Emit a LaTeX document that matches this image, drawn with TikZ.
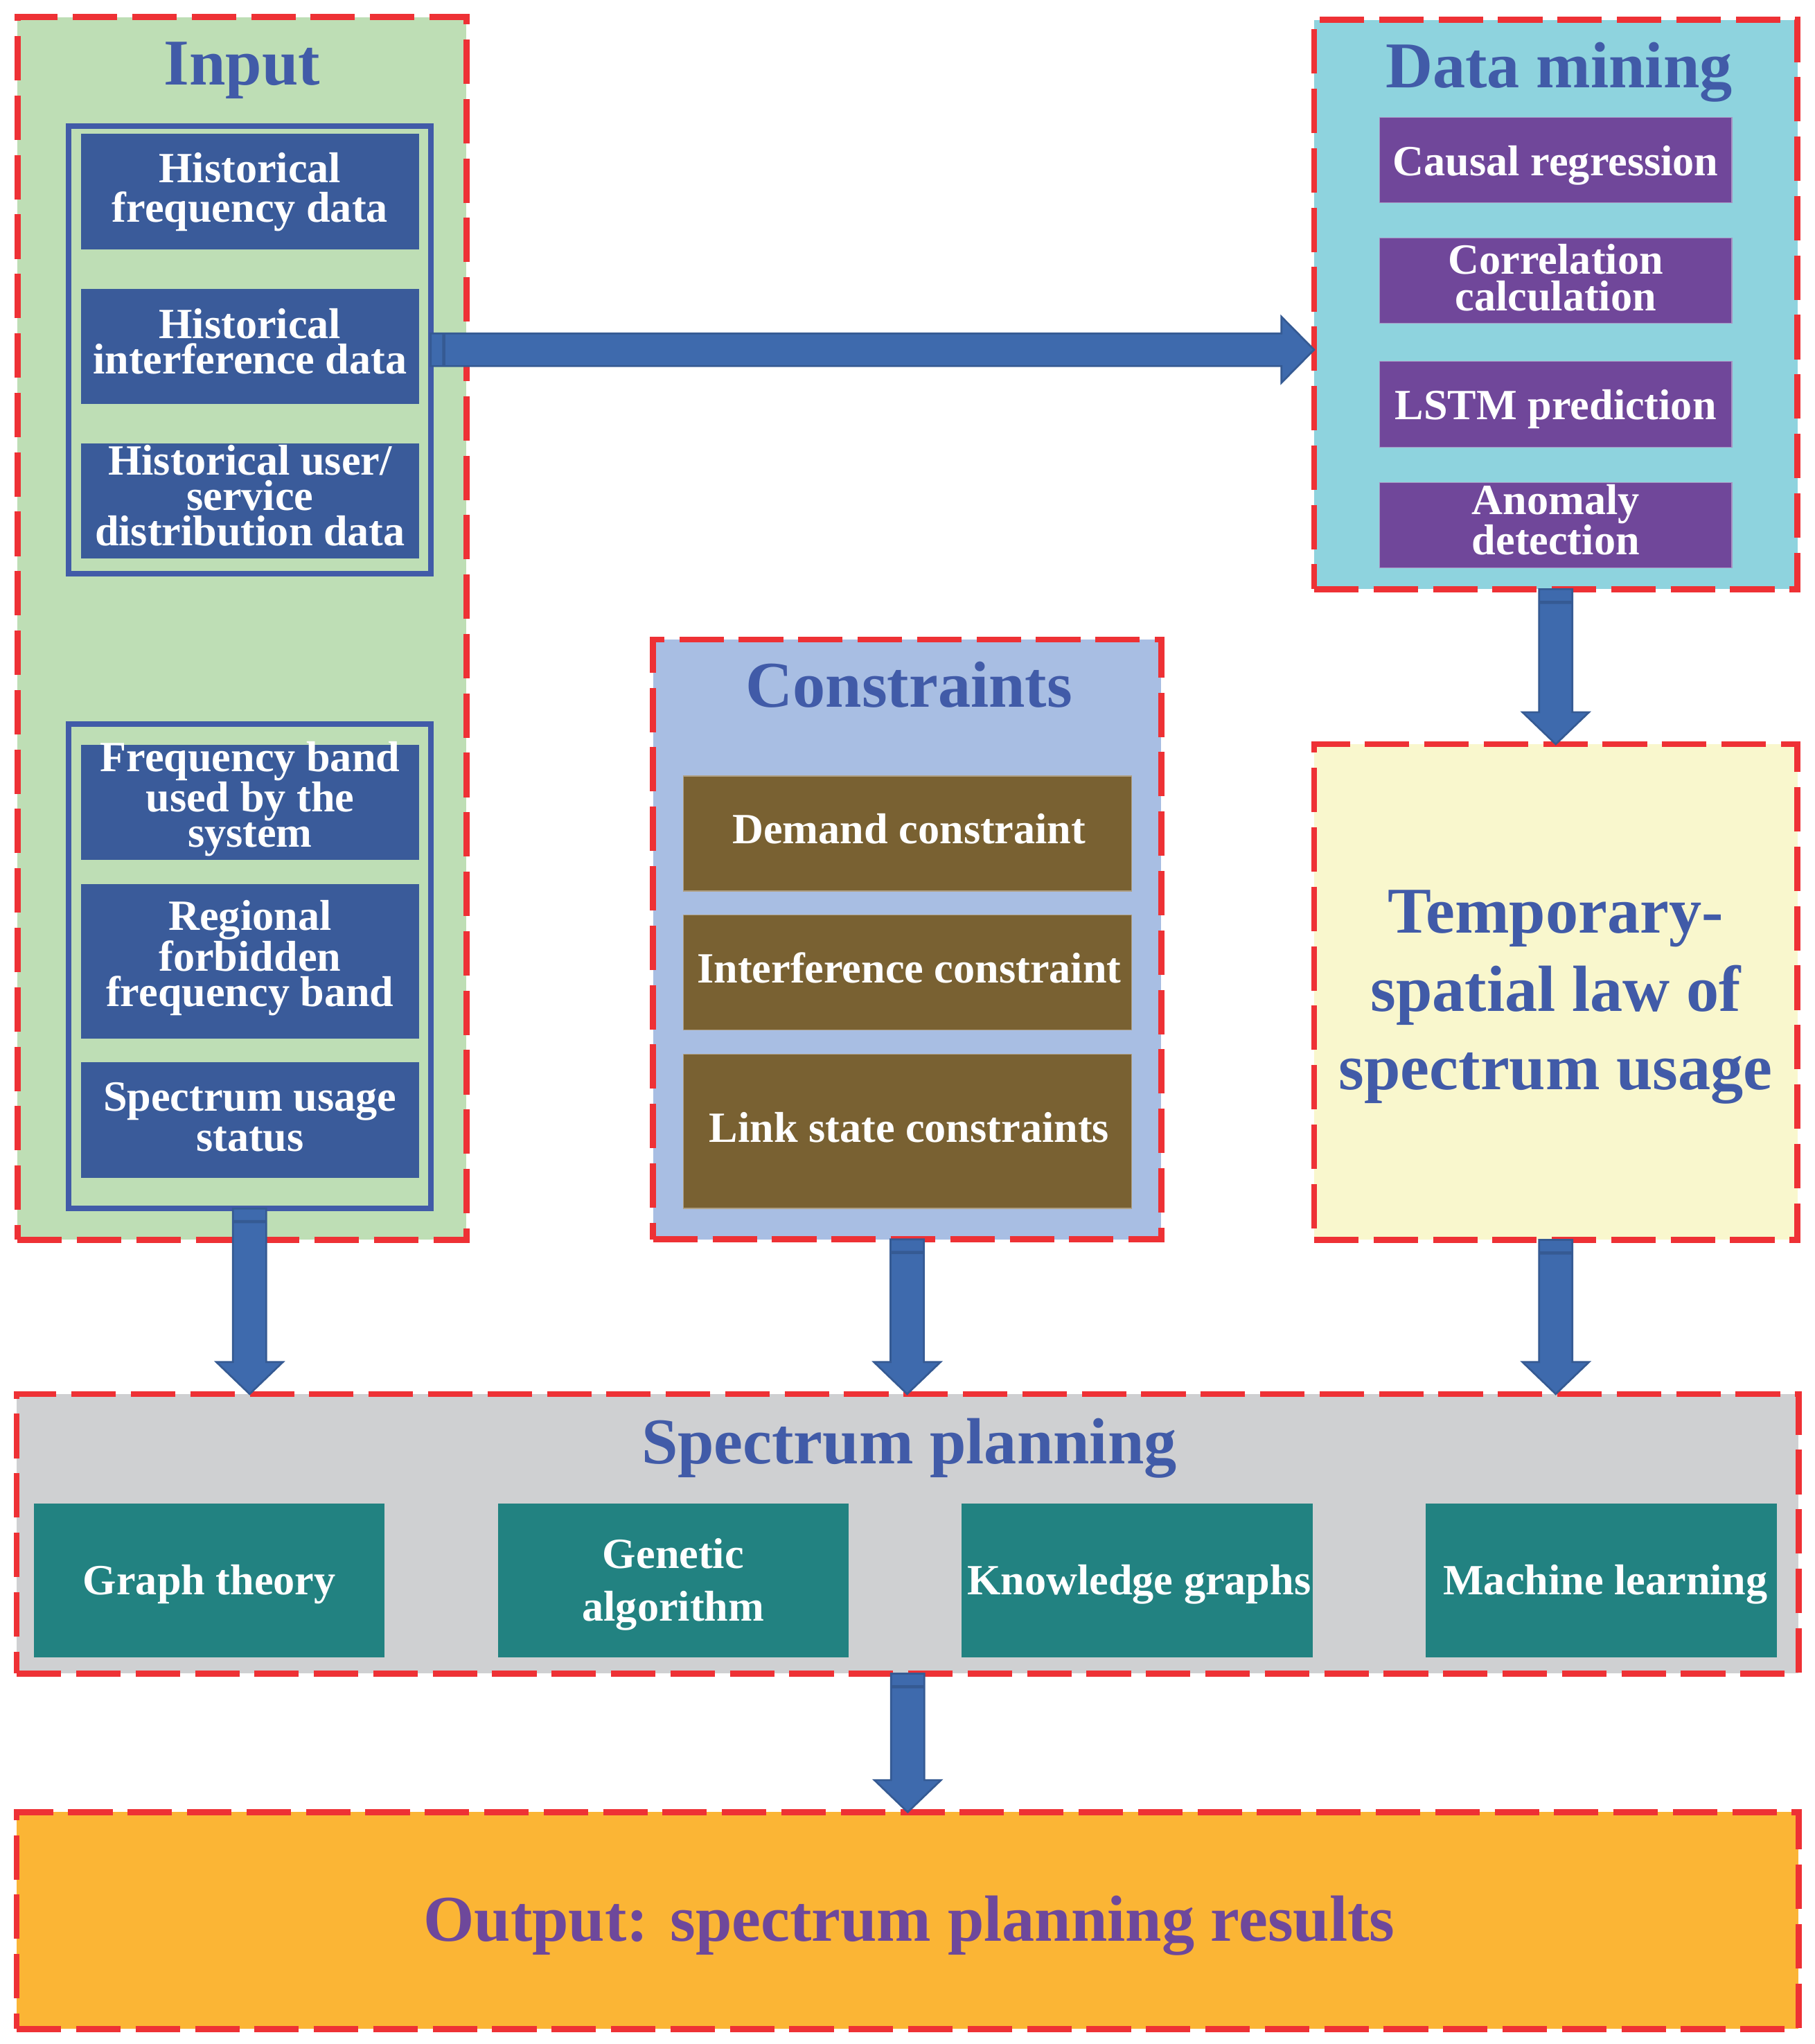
\documentclass[tikz,border=0pt]{standalone}
\usepackage{fontspec}
\setmainfont{Liberation Serif}
\usetikzlibrary{calc}
\definecolor{redd}{HTML}{EE3135}
\definecolor{ingreen}{HTML}{BEDEB5}
\definecolor{dmcyan}{HTML}{8ED3DE}
\definecolor{conblue}{HTML}{A8BEE3}
\definecolor{tempyel}{HTML}{F9F7CD}
\definecolor{plangray}{HTML}{CFD0D2}
\definecolor{outorange}{HTML}{FBB535}
\definecolor{boxblue}{HTML}{3A5B9A}
\definecolor{framblue}{HTML}{415BA8}
\definecolor{purp}{HTML}{70479A}
\definecolor{brownb}{HTML}{796132}
\definecolor{tealb}{HTML}{228281}
\definecolor{arrowblue}{HTML}{3E6AAD}
\definecolor{arrowedge}{HTML}{355A93}
\definecolor{titleblue}{HTML}{415BA8}
\definecolor{outpurp}{HTML}{6E489B}
\newcommand\myfs[2]{\fontsize{#1}{#2}\selectfont}
\tikzset{
  container/.style={draw=redd, line width=4.6pt, dash pattern=on 34pt off 11.5pt, inner sep=0pt, outer sep=0pt},
  framebox/.style={draw=framblue, line width=4.3pt, inner sep=0pt, outer sep=0pt},
  bbox/.style={fill=boxblue, minimum width=258.8pt, inner sep=0pt, outer sep=0pt},
  pbox/.style={fill=purp, draw=purp!60!white, line width=0.6pt, minimum width=269.7pt, minimum height=65.5pt, inner sep=0pt, outer sep=0pt},
  cbox/.style={fill=brownb, draw=brownb!60!white, line width=0.6pt, minimum width=343.1pt, inner sep=0pt, outer sep=0pt},
  tbox/.style={fill=tealb, minimum width=268.6pt, minimum height=117.6pt, inner sep=0pt, outer sep=0pt},
  wtext/.style={text=white, font=\bfseries\myfs{33}{#1}, align=center, inner sep=0pt, anchor=base, yshift=-1.5pt},
  wtext/.default=30,
  title/.style={text=titleblue, font=\bfseries\myfs{50}{60}, inner sep=0pt, anchor=base, align=center},
  arrowpart/.style={fill=arrowblue, draw=arrowedge, line width=1.4pt, line join=miter}
}
\newcommand\blockdown[2]{%
  \path[arrowpart] let \p1=(#1.south), \p2=(#2.north) in
    (\x1-12.75pt,\y1) rectangle (\x1+12.75pt,\y1-9.5pt)
    (\x1-12.75pt,\y1-10.5pt) -- (\x1+12.75pt,\y1-10.5pt) -- (\x1+12.75pt,\y2+24.5pt)
    -- (\x1+25.5pt,\y2+24.5pt) -- (\x1,\y2) -- (\x1-25.5pt,\y2+24.5pt)
    -- (\x1-12.75pt,\y2+24.5pt) -- cycle;}
\newcommand\blockright[2]{%
  \path[arrowpart] let \p1=(#1.east), \p2=(#2.west) in
    (\x1,\y1-12.5pt) rectangle (\x1+9.5pt,\y1+12.5pt)
    (\x1+10.5pt,\y1-12.5pt) -- (\x2-25pt,\y1-12.5pt) -- (\x2-25pt,\y1-25.3pt)
    -- (\x2,\y1) -- (\x2-25pt,\y1+25.3pt) -- (\x2-25pt,\y1+12.5pt)
    -- (\x1+10.5pt,\y1+12.5pt) -- cycle;}
\begin{document}
\begin{tikzpicture}[x=1pt,y=-1pt]
\useasboundingbox (0,0) rectangle (1389,1564.5);
\fill[white] (0,0) rectangle (1389,1564.5);

% ---- Input ----
\node[container, fill=ingreen, minimum width=343.7pt, minimum height=936pt] (input) at (185.2,481) {};
\node[title] (inputT) at (185.2,65) {Input};
\node[framebox, minimum width=277.2pt, minimum height=342.6pt] (fr1) at (191.1,267.7) {};
\node[framebox, minimum width=277.2pt, minimum height=371pt] (fr2) at (191.1,739.5) {};
\node[bbox, minimum height=88.6pt] (h1) at (191.4,146.7) {};
\node[bbox, minimum height=88.4pt] (h2) at (191.4,265.1) {};
\node[bbox, minimum height=87.8pt] (h3) at (191.4,383.4) {};
\node[bbox, minimum height=88.1pt] (f1) at (191.4,614.15) {};
\node[bbox, minimum height=118.2pt] (f2) at (191.4,735.9) {};
\node[bbox, minimum height=88.5pt] (f3) at (191.4,857.25) {};
\node[wtext=29.9] (h1t) at (191.4,168.4) {Historical\\frequency data};
\node[wtext=27.4] (h2t) at (191.4,284.7) {Historical\\interference data};
\node[wtext=27] (h3t) at (191.4,416.2) {Historical user/\\service\\distribution data};
\node[wtext=27] (f1t) at (191.4,646.8) {Frequency band\\used by the\\system};
\node[wtext=27] (f2t) at (191.4,769) {Regional\\forbidden\\frequency band};
\node[wtext=30.5] (f3t) at (191.4,879.5) {Spectrum usage\\status};

% ---- Data mining ----
\node[container, fill=dmcyan, minimum width=370pt, minimum height=435.8pt] (dm) at (1191,233.1) {};
\node[title] (dmT) at (1193.5,67) {Data mining};
\node[pbox] (p1) at (1191,122.55) {};
\node[pbox] (p2) at (1191,214.8) {};
\node[pbox] (p3) at (1191,309.45) {};
\node[pbox] (p4) at (1191,402) {};
\node[wtext] (p1t) at (1191,133) {Causal regression};
\node[wtext=28.6] (p2t) at (1191,236.6) {Correlation\\calculation};
\node[wtext] (p3t) at (1191,319.7) {LSTM prediction};
\node[wtext=28.9] (p4t) at (1191,423.2) {Anomaly\\detection};

% ---- Temporary-spatial ----
\node[container, fill=tempyel, minimum width=370pt, minimum height=379.4pt] (temp) at (1191,759.3) {};
\node[title] (tempT) at (1191,834) {Temporary-\\spatial law of\\spectrum usage};

% ---- Constraints ----
\node[container, fill=conblue, minimum width=389pt, minimum height=459.1pt] (cons) at (694.5,719.05) {};
\node[title] (consT) at (696,541.3) {Constraints};
\node[cbox, minimum height=88pt] (c1) at (694.6,638) {};
\node[cbox, minimum height=88pt] (c2) at (694.6,744.5) {};
\node[cbox, minimum height=117.9pt] (c3) at (694.6,865.95) {};
\node[wtext] (c1t) at (696,644.2) {Demand constraint};
\node[wtext] (c2t) at (696,750.7) {Interference constraint};
\node[wtext] (c3t) at (696,872.5) {Link state constraints};

% ---- Spectrum planning ----
\node[container, fill=plangray, minimum width=1364.2pt, minimum height=214pt] (plan) at (694.9,1174) {};
\node[title] (planT) at (696,1120.1) {Spectrum planning};
\node[tbox] (t1) at (160.3,1209.8) {};
\node[tbox] (t2) at (515.45,1209.8) {};
\node[tbox] (t3) at (870.65,1209.8) {};
\node[tbox] (t4) at (1225.85,1209.8) {};
\node[wtext] (t1t) at (160.3,1219.1) {Graph theory};
\node[wtext=40.2] (t2t) at (515.45,1239.1) {Genetic\\algorithm};
\node[wtext] (t3t) at (872,1219.1) {Knowledge graphs};
\node[wtext] (t4t) at (1229,1219.1) {Machine learning};

% ---- Output ----
\node[container, fill=outorange, minimum width=1364.2pt, minimum height=166pt] (out) at (694.9,1470) {};
\node[title, text=outpurp] (outT) at (696,1485.6) {Output: spectrum planning results};

% ---- Arrows ----
\blockright{fr1}{dm}
\blockdown{dm}{temp}
\blockdown{fr2}{plan}
\blockdown{cons}{plan}
\blockdown{temp}{plan}
\blockdown{plan}{out}
\end{tikzpicture}
\end{document}
